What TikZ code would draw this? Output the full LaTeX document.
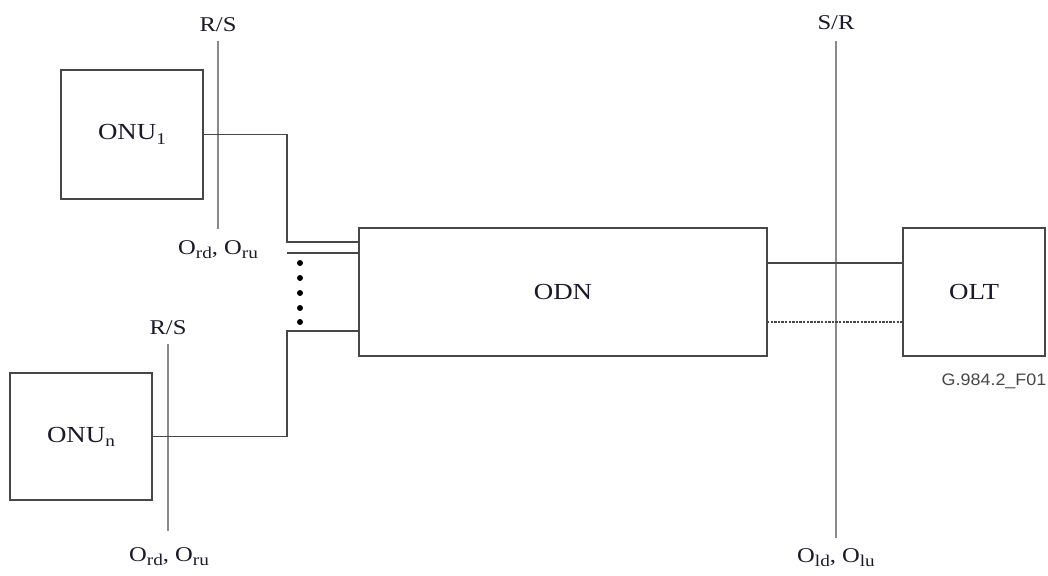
\documentclass[tikz,border=0pt]{standalone}
\usepackage{fontspec}
\setmainfont{Liberation Serif}[FakeStretch=1.17]
\setsansfont{Liberation Sans}[FakeStretch=1.08]
\newcommand{\lowsub}[1]{\raisebox{-0.4ex}{\fontsize{8.2}{9}\selectfont #1}}
\begin{document}
\begin{tikzpicture}[x=0.5pt,y=-0.5pt,
  box/.style={draw=linec,line width=1pt,inner sep=0pt,text=txtc,font=\fontsize{11.5}{13}\selectfont},
  wire/.style={draw=linec,line width=0.9pt},
  refline/.style={draw=refc,line width=1.4pt},
  lbl/.style={inner sep=0pt,text=txtc,font=\fontsize{10.5}{12}\selectfont},
  dotc/.style={fill=black,circle,inner sep=0pt,minimum size=3pt}]
\definecolor{linec}{HTML}{474747}
\definecolor{refc}{HTML}{8A8A8A}
\definecolor{txtc}{HTML}{1A1A2A}
\useasboundingbox[fill=white] (0,0) rectangle (1048,576);
% boxes
\node[box,minimum width=71pt,minimum height=64.5pt] (onu1) at (132,134.5) {ONU\lowsub{1}};
\node[box,minimum width=71pt,minimum height=63.5pt] (onun) at (81,436.5) {ONU\lowsub{n}};
\node[box,minimum width=204pt,minimum height=64pt] (odn) at (563,292) {ODN};
\node[box,minimum width=71pt,minimum height=64pt] (olt) at (974,292) {OLT};
% reference lines
\coordinate (rs1t) at (218,41);
\coordinate (rs1b) at (218,229);
\coordinate (rs2t) at (168,344);
\coordinate (rs2b) at (168,531);
\coordinate (srt) at (836,41);
\coordinate (srb) at (836,538);
\draw[refline] (rs1t) -- (rs1b);
\draw[refline] (rs2t) -- (rs2b);
\draw[refline] (srt) -- (srb);
% labels
\node[lbl] (lrs1) at (218,25) {R/S};
\node[lbl] (lo1) at (218,250) {O\lowsub{rd}, O\lowsub{ru}};
\node[lbl] (lrs2) at (168,328) {R/S};
\node[lbl] (lo2) at (169,557) {O\lowsub{rd}, O\lowsub{ru}};
\node[lbl] (lsr) at (836,23) {S/R};
\node[lbl] (lo3) at (836,558) {O\lowsub{ld}, O\lowsub{lu}};
\node[inner sep=0pt,font=\sffamily\fontsize{8.3}{10}\selectfont,text=linec] (fig) at (994,381) {G.984.2\_F01};
% connectors ONU side
\coordinate (j1) at (287,242);
\coordinate (j2) at (287,253);
\coordinate (j3) at (287,331);
\draw[wire] (onu1.east) -| (j1) -- (odn.west |- j1);
\draw[wire] (j2) -- (odn.west |- j2);
\draw[wire] (onun.east) -| (j3) -- (odn.west |- j3);
% dots
\foreach \i/\yy in {1/263,2/278,3/293,4/308,5/322}
  \node[dotc] (d\i) at (300,\yy) {};
% connectors OLT side
\coordinate (k1) at (767,263);
\coordinate (k2) at (767,322);
\draw[wire] (k1) -- (olt.west |- k1);
\draw[wire,dash pattern=on 1.2pt off 0.6pt,line width=1.1pt] (k2) -- (olt.west |- k2);
\end{tikzpicture}
\end{document}
